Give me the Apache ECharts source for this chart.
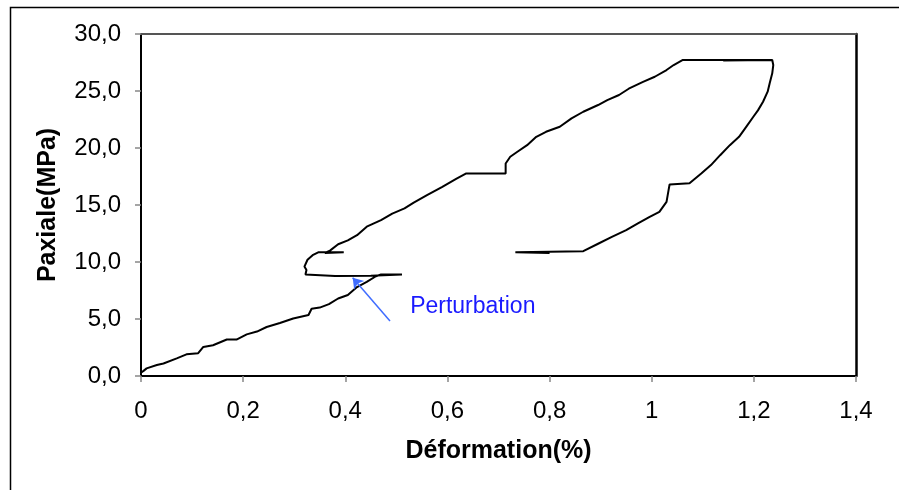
<!DOCTYPE html>
<html>
<head>
<meta charset="utf-8">
<script src="https://cdn.jsdelivr.net/npm/echarts@6/dist/echarts.min.js"></script>
<style>html,body{margin:0;padding:0;background:#fff;}#c{width:899px;height:490px;}</style>
</head>
<body>
<div id="c"></div>
<script>
// Strain (%) and axial stress (MPa)
var strain = [0, 0.005, 0.011, 0.031, 0.044, 0.07, 0.089, 0.112, 0.122, 0.141, 0.168, 0.187, 0.207, 0.227, 0.246, 0.272, 0.298, 0.328, 0.334, 0.35, 0.368, 0.386, 0.405, 0.423, 0.442, 0.46, 0.47, 0.511, 0.45, 0.38, 0.322,
  0.324, 0.32, 0.326, 0.336, 0.347, 0.397, 0.36, 0.37, 0.386, 0.405, 0.423, 0.442, 0.47, 0.492, 0.516, 0.534, 0.56, 0.59, 0.617, 0.636, 0.714, 0.714, 0.723, 0.737, 0.756, 0.774, 0.793, 0.82, 0.843, 0.866, 0.895, 0.913, 0.936, 0.955, 0.983, 1.006, 1.029, 1.043, 1.061, 1.234, 1.14, 1.236,
  1.238, 1.236, 1.231, 1.227, 1.218, 1.208, 1.199, 1.185, 1.171, 1.153, 1.134, 1.116, 1.097, 1.074, 1.074, 1.035, 1.033, 1.029, 1.015, 0.996, 0.973, 0.95, 0.922, 0.895, 0.866, 0.866, 0.733, 0.80];
var stress = [0.3, 0.45, 0.67, 0.96, 1.1, 1.55, 1.9, 2.0, 2.55, 2.7, 3.2, 3.2, 3.65, 3.9, 4.3, 4.65, 5.05, 5.35, 5.9, 6.0, 6.3, 6.8, 7.1, 7.8, 8.25, 8.75, 8.9, 8.9, 8.8, 8.78, 8.9,
  9.3, 9.6, 10.2, 10.6, 10.85, 10.85, 10.8, 11.0, 11.56, 11.9, 12.35, 13.1, 13.67, 14.25, 14.7, 15.2, 15.86, 16.6, 17.3, 17.76, 17.76, 18.64, 19.23, 19.67, 20.25, 20.98, 21.42, 21.86, 22.6, 23.18, 23.77, 24.2, 24.65, 25.2, 25.8, 26.25, 26.84, 27.28, 27.72, 27.72, 27.68, 27.72,
  27.28, 26.55, 25.67, 24.94, 24.06, 23.3, 22.74, 21.86, 20.98, 20.25, 19.37, 18.5, 17.76, 16.9, 16.8, 16.8, 16.3, 15.28, 14.4, 13.96, 13.38, 12.8, 12.2, 11.6, 10.95, 10.85, 10.85, 10.78];
var xTicks = [0, 0.2, 0.4, 0.6, 0.8, 1, 1.2, 1.4];
var yTicks = [0, 5, 10, 15, 20, 25, 30];
var arrowFrom = [0.4875, 4.82];
var arrowTo = [0.4145, 8.62];
var annotationPos = [0.527, 6.08];
var annotationText = 'Perturbation';

var data = strain.map(function (x, i) { return [x, stress[i]]; });
var fontFam = '"Liberation Sans", Arial, sans-serif';

var chart = echarts.init(document.getElementById('c'), null, {renderer: 'canvas'});
chart.setOption({
  animation: false,
  backgroundColor: '#fff',
  graphic: [{
    type: 'rect', left: 8, top: 5, shape: {width: 1000, height: 1000},
    style: {fill: 'none', stroke: '#000', lineWidth: 1.5}, silent: true
  }],
  grid: {left: 141, top: 34, right: 43, bottom: 114, show: false},
  xAxis: [{
    type: 'value', min: xTicks[0], max: xTicks[xTicks.length - 1], interval: 0.2,
    name: 'Déformation(%)', nameLocation: 'middle', nameGap: 63,
    nameTextStyle: {fontFamily: fontFam, fontSize: 25, fontWeight: 'bold', color: '#000'},
    axisLine: {show: true, onZero: false, lineStyle: {color: '#000', width: 2}},
    axisTick: {show: true, length: 6, lineStyle: {color: '#888', width: 1.5}},
    axisLabel: {margin: 23, fontFamily: fontFam, fontSize: 24, color: '#000',
      formatter: function (v) { return String(Math.round(v * 10) / 10).replace('.', ','); }},
    splitLine: {show: false}
  }, {
    type: 'value', position: 'top', min: 0, max: 1.4,
    axisLine: {show: true, onZero: false, lineStyle: {color: '#555', width: 2}},
    axisTick: {show: false}, axisLabel: {show: false}, splitLine: {show: false}
  }],
  yAxis: [{
    type: 'value', min: yTicks[0], max: yTicks[yTicks.length - 1], interval: 5,
    name: 'Paxiale(MPa)', nameLocation: 'middle', nameGap: 80, nameRotate: 90,
    nameTextStyle: {fontFamily: fontFam, fontSize: 25, fontWeight: 'bold', color: '#000'},
    axisLine: {show: true, onZero: false, lineStyle: {color: '#000', width: 2}},
    axisTick: {show: true, length: 6, lineStyle: {color: '#888', width: 1.5}},
    axisLabel: {margin: 20, fontFamily: fontFam, fontSize: 24, color: '#000',
      formatter: function (v) { return v.toFixed(1).replace('.', ','); }},
    splitLine: {show: false}
  }, {
    type: 'value', position: 'right', min: 0, max: 30,
    axisLine: {show: true, onZero: false, lineStyle: {color: '#000', width: 2.5}},
    axisTick: {show: false}, axisLabel: {show: false}, splitLine: {show: false}
  }],
  series: [{
    type: 'line',
    data: data,
    showSymbol: false,
    symbol: 'none',
    lineStyle: {color: '#000', width: 2},
    markLine: {
      silent: true, animation: false,
      symbol: ['none', 'arrow'], symbolSize: 10,
      label: {show: false},
      lineStyle: {color: '#3f6cff', width: 1.5, type: 'solid'},
      data: [[{coord: arrowFrom}, {coord: arrowTo}]]
    },
    markPoint: {
      silent: true, symbol: 'circle', symbolSize: 0,
      label: {show: true, position: 'right', distance: 0, formatter: annotationText,
        fontFamily: fontFam, fontSize: 23, color: '#1a1aff'},
      data: [{coord: annotationPos}]
    }
  }]
});
</script>
</body>
</html>
